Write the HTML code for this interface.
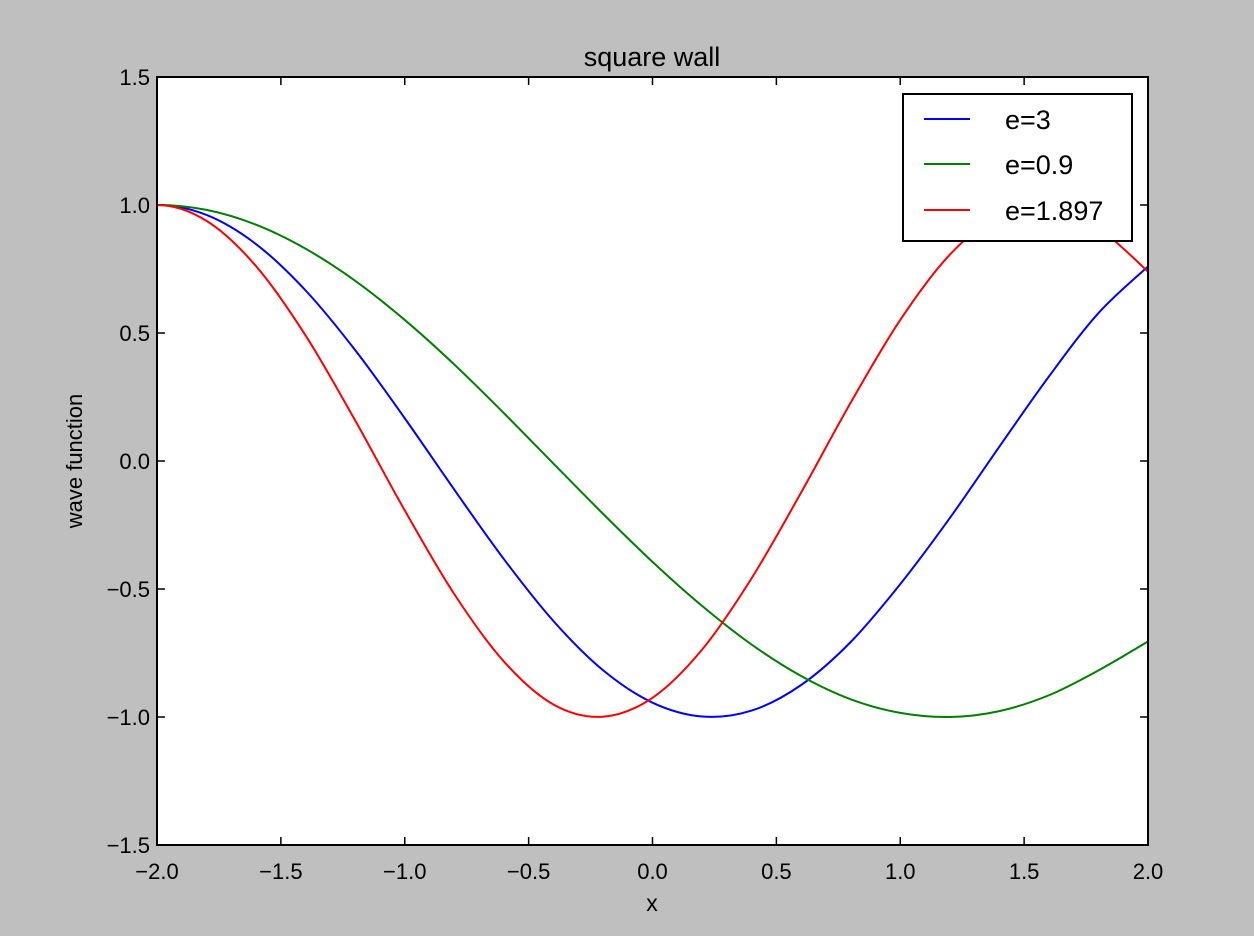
<!DOCTYPE html>
<html><head><meta charset="utf-8"><style>
body{margin:0;background:#bfbfbf;}
svg{display:block;font-family:"Liberation Sans",sans-serif;}
</style></head><body>
<svg id="chart" width="1254" height="936">
<rect x="0" y="0" width="1254" height="936" fill="#bfbfbf"/>
<rect x="157" y="77" width="991" height="768" fill="#ffffff"/>
<g id="grid"></g>
<g id="series"></g>
<rect x="157" y="77" width="991" height="768" fill="none" stroke="#000" stroke-width="2"/>
<text x="652" y="66" font-size="27" text-anchor="middle">square wall</text>
<text x="652" y="911" font-size="23" text-anchor="middle">x</text>
<text x="82" y="461" font-size="22" text-anchor="middle" transform="rotate(-90 82 461)">wave function</text>
<g>
<rect x="903" y="94" width="229" height="147" fill="#fff" stroke="#000" stroke-width="2"/>
<g><line x1="924" y1="119" x2="970" y2="119" stroke="#0000ff" stroke-width="2"/><text x="1005" y="129" font-size="27">e=3</text></g>
<g><line x1="924" y1="164" x2="970" y2="164" stroke="#008000" stroke-width="2"/><text x="1005" y="174" font-size="27">e=0.9</text></g>
<g><line x1="924" y1="210" x2="970" y2="210" stroke="#ff0000" stroke-width="2"/><text x="1005" y="220" font-size="27">e=1.897</text></g>
</g>
</svg>
<script>
const xs=[-2,-1.8,-1.6,-1.4,-1.2,-1,-0.8,-0.6,-0.4,-0.2,0,0.2,0.4,0.6,0.8,1,1.2,1.4,1.6,1.8,2];
const blueVals=[1,0.961,0.847,0.666,0.433,0.167,-0.112,-0.383,-0.625,-0.817,-0.944,-0.998,-0.975,-0.875,-0.707,-0.481,-0.223,0.056,0.330,0.578,0.760];
const greenVals=[1,0.981,0.923,0.829,0.704,0.551,0.377,0.187,-0.010,-0.206,-0.394,-0.566,-0.717,-0.840,-0.931,-0.984,-1.000,-0.977,-0.915,-0.818,-0.705];
const redVals=[1,0.938,0.761,0.490,0.158,-0.193,-0.520,-0.783,-0.951,-0.999,-0.925,-0.737,-0.458,-0.123,0.228,0.551,0.806,0.960,0.997,0.910,0.740];
const xTicks=[-2,-1.5,-1,-0.5,0,0.5,1,1.5,2];
const xTickLabels=["\u22122.0","\u22121.5","\u22121.0","\u22120.5","0.0","0.5","1.0","1.5","2.0"];
const yTicks=[-1.5,-1,-0.5,0,0.5,1,1.5];
const yTickLabels=["\u22121.5","\u22121.0","\u22120.5","0.0","0.5","1.0","1.5"];
const X0=157,X1=1148,Y0=845,Y1=77;
const sx=v=>X0+(v+2)/4*(X1-X0);
const sy=v=>Y0-(v+1.5)/3*(Y0-Y1);
const NS="http://www.w3.org/2000/svg";
const svg=document.getElementById('chart');
const g=document.getElementById('grid');
function mk(t,a,p){const e=document.createElementNS(NS,t);for(const k in a)e.setAttribute(k,a[k]);(p||g).appendChild(e);return e;}
xTicks.forEach((v,i)=>{
 const x=sx(v);
 const t1=mk('line',{x1:x,y1:Y0,x2:x,y2:Y0-8,stroke:'#000','stroke-width':1.5});
 
 
 mk('line',{x1:x,y1:Y1,x2:x,y2:Y1+8,stroke:'#000','stroke-width':1.5});
 const l=mk('text',{x:x,y:879,'font-size':22,'text-anchor':'middle'},svg);
 l.textContent=xTickLabels[i];
 
 
});
yTicks.forEach((v,i)=>{
 const y=sy(v);
 const t1=mk('line',{x1:X0,y1:y,x2:X0+8,y2:y,stroke:'#000','stroke-width':1.5});
 
 
 mk('line',{x1:X1,y1:y,x2:X1-8,y2:y,stroke:'#000','stroke-width':1.5});
 const l=mk('text',{x:150,y:y+8,'font-size':22,'text-anchor':'end'},svg);
 l.textContent=yTickLabels[i];
 
 
});
function pathFor(vals){
 const p=xs.map((x,i)=>[sx(x),sy(vals[i])]);
 let d='M'+p[0][0]+','+p[0][1];
 for(let i=0;i<p.length-1;i++){
  const a=i===0?[2*p[0][0]-p[1][0],p[1][1]]:p[i-1],b=p[i],c=p[i+1],e=p[Math.min(p.length-1,i+2)];
  const c1=[b[0]+(c[0]-a[0])/6,b[1]+(c[1]-a[1])/6],c2=[c[0]-(e[0]-b[0])/6,c[1]-(e[1]-b[1])/6];
  d+=' C'+c1+' '+c2+' '+c;
 }
 return d;
}
const sg=document.getElementById('series');
[[blueVals,'#0000ff','series-e3'],[greenVals,'#008000','series-e0.9'],[redVals,'#ff0000','series-e1.897']].forEach(s=>{
 const p=mk('path',{d:pathFor(s[0]),fill:'none',stroke:s[1],'stroke-width':2},sg);
 
 
});
</script>
</body></html>
